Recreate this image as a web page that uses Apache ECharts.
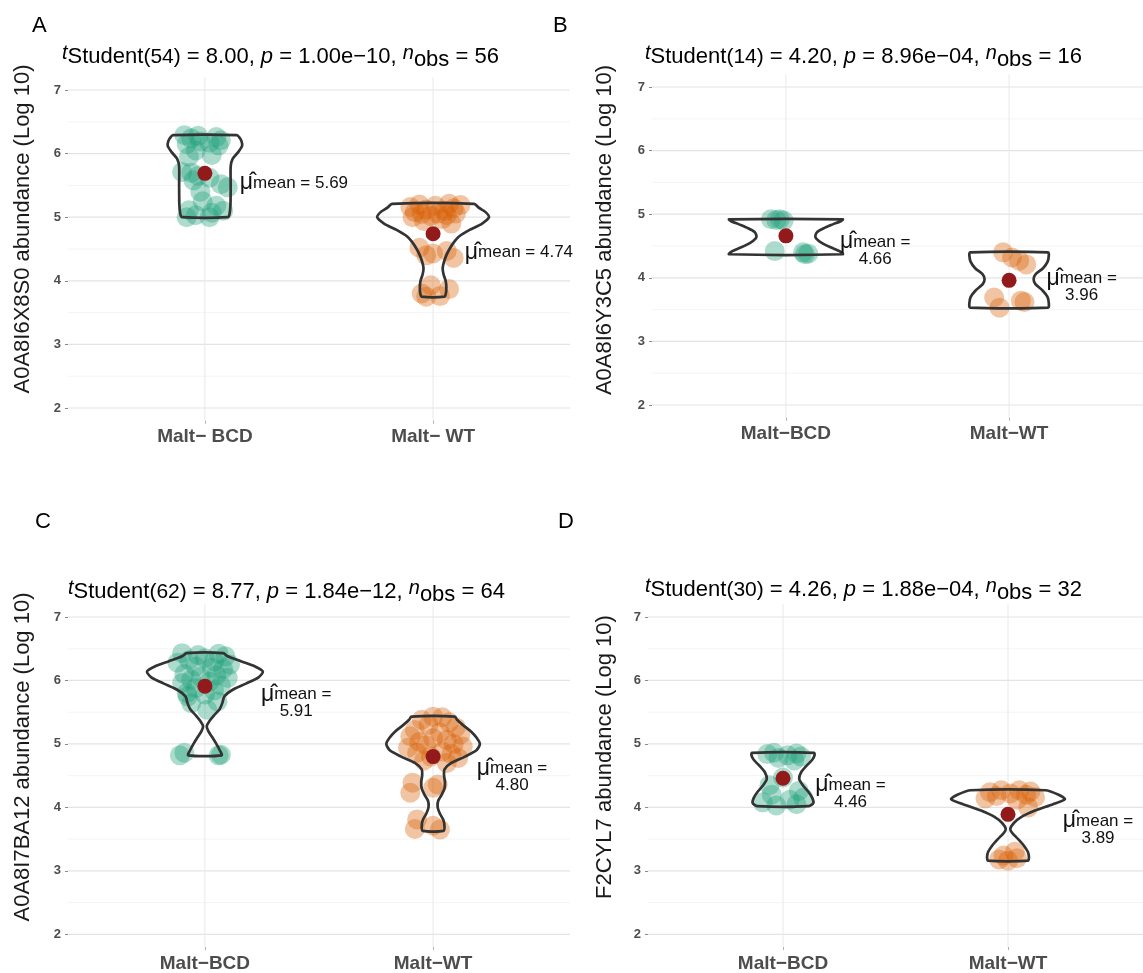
<!DOCTYPE html>
<html><head><meta charset="utf-8">
<script src="https://cdn.jsdelivr.net/npm/echarts@6/dist/echarts.min.js"></script>
<style>html,body{margin:0;padding:0;background:#fff}#c{width:1143px;height:973px}</style>
</head><body><div id="c"></div>
<script>
// ---------- DATA ----------
const catsA = ['Malt\u2212 BCD', 'Malt\u2212 WT'];
const catsBCD = ['Malt\u2212BCD', 'Malt\u2212WT'];
const yTicks = [2, 3, 4, 5, 6, 7];
const yMinor = [2.5, 3.5, 4.5, 5.5, 6.5];

const yTitleA = 'A0A8I6X8S0 abundance (Log 10)';
const yTitleB = 'A0A8I6Y3C5 abundance (Log 10)';
const yTitleC = 'A0A8I7BA12 abundance (Log 10)';
const yTitleD = 'F2CYL7 abundance (Log 10)';

// [df, t, p, n]
const statsA = ['54', '8.00', '1.00e\u221210', '56'];
const statsB = ['14', '4.20', '8.96e\u221204', '16'];
const statsC = ['62', '8.77', '1.84e\u221212', '64'];
const statsD = ['30', '4.26', '1.88e\u221204', '32'];

const meansA = [5.69, 4.74];
const meansB = [4.66, 3.96];
const meansC = [5.91, 4.80];
const meansD = [4.46, 3.89];

// observations (log10 abundance)
const valsA_BCD = [6.29,6.28,6.26,6.24,6.21,6.19,6.17,6.15,6.13,6.05,5.98,5.95,5.71,5.70,5.65,5.62,5.58,5.52,5.47,5.40,5.25,5.18,5.11,5.10,5.07,5.03,5.00,5.00];
const valsA_WT  = [5.21,5.20,5.19,5.18,5.16,5.14,5.12,5.10,5.08,5.06,5.06,5.05,5.03,5.02,5.00,4.97,4.94,4.90,4.52,4.47,4.43,4.40,4.36,3.93,3.87,3.80,3.76,3.75];
const valsB_BCD = [4.92,4.92,4.91,4.90,4.42,4.40,4.38,4.37];
const valsB_WT  = [4.40,4.32,4.27,4.21,3.69,3.53,3.64,3.62];
const valsC_BCD = [4.82,4.83,4.86,4.82,5.64,5.67,5.54,5.75,6.43,6.42,6.40,6.38,6.35,6.32,6.30,6.28,6.25,6.22,6.20,6.18,6.10,6.08,6.06,6.04,6.01,5.98,5.96,5.92,5.88,5.84,5.80,5.78];
const valsC_WT  = [3.81,3.66,3.71,3.65,4.39,4.31,4.23,4.36,5.43,5.42,5.38,5.34,5.30,5.26,5.22,5.18,5.15,5.12,5.09,5.06,5.03,5.00,4.98,4.96,4.94,4.88,4.86,4.84,4.80,4.78,4.74,4.70];
const valsD_BCD = [4.86,4.85,4.84,4.82,4.80,4.78,4.74,4.47,4.35,4.03,4.05,4.08,4.12,4.15,4.20,4.26];
const valsD_WT  = [4.27,4.27,4.25,4.24,4.22,4.20,4.18,4.16,4.14,4.12,4.00,3.16,3.18,3.20,3.24,3.30];

// horizontal jitter of each point (category units)
const jitA_BCD = [-0.09,-0.03,0.05,-0.06,0.07,-0.02,0.02,-0.08,0.06,-0.04,0.03,-0.07,-0.10,-0.06,-0.03,0.02,-0.05,0.07,0.10,-0.02,-0.01,0.05,-0.07,0.08,0.03,-0.04,-0.08,0.02];
const jitA_WT  = [0.07,-0.06,0.12,0.01,-0.10,0.09,-0.03,0.05,-0.08,0.02,0.10,-0.05,0.06,-0.01,-0.09,0.04,-0.04,0.08,-0.06,0.06,0.00,-0.03,0.09,-0.01,0.07,-0.05,0.03,-0.03];
const jitB_BCD = [-0.067,-0.027,-0.043,-0.01,-0.05,0.077,0.10,0.085];
const jitB_WT  = [-0.027,0.013,0.045,0.077,-0.067,-0.043,0.053,0.069];
const jitC_BCD = [-0.11,0.07,-0.09,0.06,-0.06,0.055,0.01,-0.075,-0.10,0.06,-0.03,0.09,0.00,-0.07,0.04,-0.12,0.11,-0.04,0.03,0.08,-0.09,0.05,-0.02,0.10,-0.06,0.02,-0.10,0.07,-0.04,0.04,-0.08,0.00];
const jitC_WT  = [-0.07,-0.08,0.00,0.03,-0.09,0.00,-0.10,0.02,0.00,0.04,-0.05,0.07,-0.02,0.10,-0.08,0.03,0.12,-0.10,0.00,0.06,-0.06,0.09,-0.03,0.13,-0.11,0.04,-0.07,0.08,-0.01,0.11,-0.04,0.06];
const jitD_BCD = [-0.04,0.06,-0.07,0.02,0.08,-0.02,0.05,0.00,-0.06,-0.03,0.06,-0.09,0.03,0.09,-0.05,0.07];
const jitD_WT  = [-0.03,0.05,0.10,-0.08,0.01,0.08,-0.05,0.12,-0.10,0.04,0.09,0.00,-0.04,0.04,-0.02,0.03];

// violin outlines: [value, half-width in category units], bottom to top
const vioA_BCD = [[5.0,0.10],[5.05,0.108],[5.2,0.112],[5.5,0.113],[5.8,0.113],[5.92,0.122],[6.02,0.145],[6.12,0.163],[6.2,0.16],[6.26,0.15],[6.29,0.14]];
const vioA_WT  = [[3.75,0.05],[3.8,0.056],[3.9,0.058],[4.0,0.055],[4.1,0.046],[4.2,0.042],[4.3,0.048],[4.4,0.058],[4.5,0.072],[4.6,0.09],[4.7,0.115],[4.8,0.16],[4.9,0.215],[5.0,0.245],[5.08,0.23],[5.15,0.2],[5.21,0.18]];
const vioB_BCD = [[4.37,0.255],[4.42,0.24],[4.48,0.2],[4.55,0.16],[4.62,0.135],[4.66,0.132],[4.72,0.14],[4.78,0.17],[4.84,0.21],[4.89,0.245],[4.92,0.255]];
const vioB_WT  = [[3.53,0.175],[3.6,0.178],[3.7,0.172],[3.8,0.15],[3.9,0.118],[3.98,0.11],[4.06,0.12],[4.15,0.152],[4.25,0.172],[4.35,0.178],[4.40,0.175]];
const vioC_BCD = [[4.82,0.073],[4.9,0.065],[5.0,0.05],[5.1,0.033],[5.2,0.015],[5.28,0.008],[5.36,0.02],[5.45,0.04],[5.55,0.065],[5.65,0.077],[5.75,0.085],[5.85,0.12],[5.95,0.18],[6.05,0.235],[6.14,0.254],[6.22,0.22],[6.3,0.16],[6.38,0.1],[6.43,0.08]];
const vioC_WT  = [[3.63,0.045],[3.7,0.05],[3.8,0.045],[3.9,0.03],[4.0,0.02],[4.1,0.022],[4.2,0.038],[4.3,0.05],[4.4,0.052],[4.5,0.048],[4.6,0.05],[4.7,0.08],[4.8,0.14],[4.9,0.19],[5.0,0.205],[5.1,0.19],[5.2,0.165],[5.3,0.13],[5.38,0.105],[5.43,0.095]];
const vioD_BCD = [[4.02,0.115],[4.07,0.135],[4.15,0.13],[4.25,0.112],[4.35,0.088],[4.45,0.072],[4.55,0.08],[4.65,0.103],[4.75,0.13],[4.82,0.14],[4.86,0.138]];
const vioD_WT  = [[3.16,0.088],[3.22,0.093],[3.3,0.088],[3.4,0.07],[3.5,0.045],[3.6,0.018],[3.66,0.01],[3.75,0.025],[3.85,0.06],[3.95,0.12],[4.05,0.2],[4.13,0.253],[4.2,0.225],[4.27,0.165]];

// ---------- LAYOUT ----------
const FONT = 'Liberation Sans, Arial, sans-serif';
const panels = [
  {letter:'A', lx:32, ly:26, cats:catsA, stats:statsA, tx:62, ty:57, yTitle:yTitleA, yx:23, yy:229,
   grid:{left:68, top:77.3, width:502, height:343.4}, vals:[valsA_BCD, valsA_WT], jit:[jitA_BCD, jitA_WT],
   vio:[vioA_BCD, vioA_WT], means:meansA, twoLine:false, lab:[[0.153,5.54],[0.139,4.45]]},
  {letter:'B', lx:553, ly:26, cats:catsBCD, stats:statsB, tx:645, ty:57, yTitle:yTitleB, yx:605, yy:230,
   grid:{left:652, top:74.3, width:502, height:343.4}, vals:[valsB_BCD, valsB_WT], jit:[jitB_BCD, jitB_WT],
   vio:[vioB_BCD, vioB_WT], means:meansB, twoLine:true, lab:[[0.40,4.43],[0.325,3.86]]},
  {letter:'C', lx:35, ly:522, cats:catsBCD, stats:statsC, tx:68, ty:592, yTitle:yTitleC, yx:23, yy:757,
   grid:{left:68, top:604.3, width:502, height:343.4}, vals:[valsC_BCD, valsC_WT], jit:[jitC_BCD, jitC_WT],
   vio:[vioC_BCD, vioC_WT], means:meansC, twoLine:true, lab:[[0.40,5.645],[0.346,4.475]]},
  {letter:'D', lx:558, ly:522, cats:catsBCD, stats:statsD, tx:645, ty:590, yTitle:yTitleD, yx:605, yy:757,
   grid:{left:648, top:604.3, width:502, height:343.4}, vals:[valsD_BCD, valsD_WT], jit:[jitD_BCD, jitD_WT],
   vio:[vioD_BCD, vioD_WT], means:meansD, twoLine:true, lab:[[0.30,4.22],[0.40,3.65]]}
];
const ptColors = ['#1b9e77', '#d95f02'];

const grids = [], xAxes = [], yAxes = [], series = [], graphics = [];

panels.forEach((P, i) => {
  grids.push(Object.assign({containLabel:false}, P.grid));
  xAxes.push({gridIndex:i, type:'value', min:0.4, max:2.6,
    splitLine:{show:false}, axisLine:{show:false},
    axisTick:{show:true, customValues:[1,2], length:3, lineStyle:{color:'#b0b0b0', width:1}},
    axisLabel:{customValues:[1,2], formatter:(v)=>P.cats[Math.round(v)-1], fontSize:19, fontWeight:'bold',
      color:'#4d4d4d', margin:7, fontFamily:FONT}});
  yAxes.push({gridIndex:i, type:'value', min:1.8, max:7.2,
    splitLine:{show:false}, axisLine:{show:false},
    axisTick:{show:true, customValues:yTicks, length:3, lineStyle:{color:'#8a8a8a', width:1}},
    axisLabel:{customValues:yTicks, fontSize:13, fontWeight:'bold', color:'#4d4d4d', margin:7, fontFamily:FONT}});

  // horizontal grid lines
  series.push({type:'custom', xAxisIndex:i, yAxisIndex:i, silent:true, z:0,
    data: yTicks.map(v=>[1, v, 1]).concat(yMinor.map(v=>[1, v, 0])),
    renderItem(params, api){
      const cs = params.coordSys; const y = api.coord([1, api.value(1)])[1]; const major = api.value(2) === 1;
      return {type:'line', shape:{x1:cs.x, y1:y, x2:cs.x+cs.width, y2:y},
        style:{stroke: major ? '#e4e4e4' : '#f1f1f1', lineWidth: major ? 1.2 : 0.8}};
    }});
  // vertical grid lines at categories
  series.push({type:'custom', xAxisIndex:i, yAxisIndex:i, silent:true, z:0,
    data:[[1, 4],[2, 4]],
    renderItem(params, api){
      const cs = params.coordSys; const x = api.coord([api.value(0), 4])[0];
      return {type:'line', shape:{x1:x, y1:cs.y, x2:x, y2:cs.y+cs.height}, style:{stroke:'#e8e8e8', lineWidth:1}};
    }});
  // observations
  [0,1].forEach(g => {
    series.push({type:'scatter', xAxisIndex:i, yAxisIndex:i, silent:true, z:2, symbolSize:20,
      data: P.vals[g].map((v,k)=>[g+1+P.jit[g][k], v]),
      itemStyle:{color:ptColors[g], opacity:0.36}});
  });
  // violins
  series.push({type:'custom', xAxisIndex:i, yAxisIndex:i, silent:true, z:3,
    data:[[1, 4],[2, 4]],
    renderItem(params, api){
      const c = api.value(0); const prof = P.vio[params.dataIndex];
      const left = prof.map(([y,h]) => api.coord([c-h, y]));
      const right = prof.slice().reverse().map(([y,h]) => api.coord([c+h, y]));
      return {type:'polygon', shape:{points:left.concat(right), smooth:0.25},
        style:{fill:'none', stroke:'#333333', lineWidth:2.7, lineJoin:'round'}};
    }});
  // means
  series.push({type:'scatter', xAxisIndex:i, yAxisIndex:i, silent:true, z:4, symbolSize:15,
    data: P.means.map((m,g)=>[g+1, m]), itemStyle:{color:'#921a1a', opacity:1}});
  // mean labels
  series.push({type:'custom', xAxisIndex:i, yAxisIndex:i, silent:true, z:5,
    data: P.means.map((m,g)=>[g+1+P.lab[g][0], P.lab[g][1], m]),
    renderItem(params, api){
      const pt = api.coord([api.value(0), api.value(1)]);
      const m = api.value(2).toFixed(2);
      const al = P.twoLine ? 'center' : 'left';
      const rich = {
        mu:{fontSize:23, fontFamily:FONT, fill:'#111', lineHeight:17, align:al},
        m:{fontSize:17, fontFamily:FONT, fill:'#111', lineHeight:17, align:al}
      };
      const text = P.twoLine ? '{mu|\u03bc\u0302}{m|mean =}\n{m|' + m + '}' : '{mu|\u03bc\u0302}{m|mean = ' + m + '}';
      return {type:'text', x:pt[0], y:pt[1],
        style:{text, rich, align:al, verticalAlign:'middle', fill:'#111', fontFamily:FONT}};
    }});

  // panel letter
  graphics.push({type:'text', x:P.lx, y:P.ly, style:{text:P.letter, fontSize:22, fontFamily:FONT, fill:'#000', verticalAlign:'middle', align:'left'}});
  // title
  const s = P.stats;
  graphics.push({type:'text', x:P.tx, y:P.ty, style:{
    text:'{t|t}{s|Student}{d|(' + s[0] + ')}{n| = ' + s[1] + ', }{i|p}{n| = ' + s[2] + ', }{t|n}{o|obs}{n| = ' + s[3] + '}',
    verticalAlign:'middle', align:'left', fontFamily:FONT, fill:'#000',
    rich:{
      t:{fontSize:20, fontStyle:'italic', fontFamily:FONT, fill:'#000', lineHeight:20, verticalAlign:'top'},
      s:{fontSize:22, fontFamily:FONT, fill:'#000', lineHeight:28},
      d:{fontSize:21, fontFamily:FONT, fill:'#000', lineHeight:28},
      n:{fontSize:22, fontFamily:FONT, fill:'#000', lineHeight:28},
      i:{fontSize:22, fontStyle:'italic', fontFamily:FONT, fill:'#000', lineHeight:28},
      o:{fontSize:22, fontFamily:FONT, fill:'#000', lineHeight:22, verticalAlign:'bottom'}
    }}});
  // y-axis title
  graphics.push({type:'text', x:P.yx, y:P.yy, rotation:Math.PI/2, style:{text:P.yTitle, fontSize:22, fontFamily:FONT, fill:'#1a1a1a', align:'center', verticalAlign:'middle'}});
});

const chart = echarts.init(document.getElementById('c'), null, {renderer:'canvas'});
chart.setOption({
  backgroundColor:'#ffffff', animation:false,
  grid:grids, xAxis:xAxes, yAxis:yAxes, series, graphic:graphics
});
</script></body></html>
